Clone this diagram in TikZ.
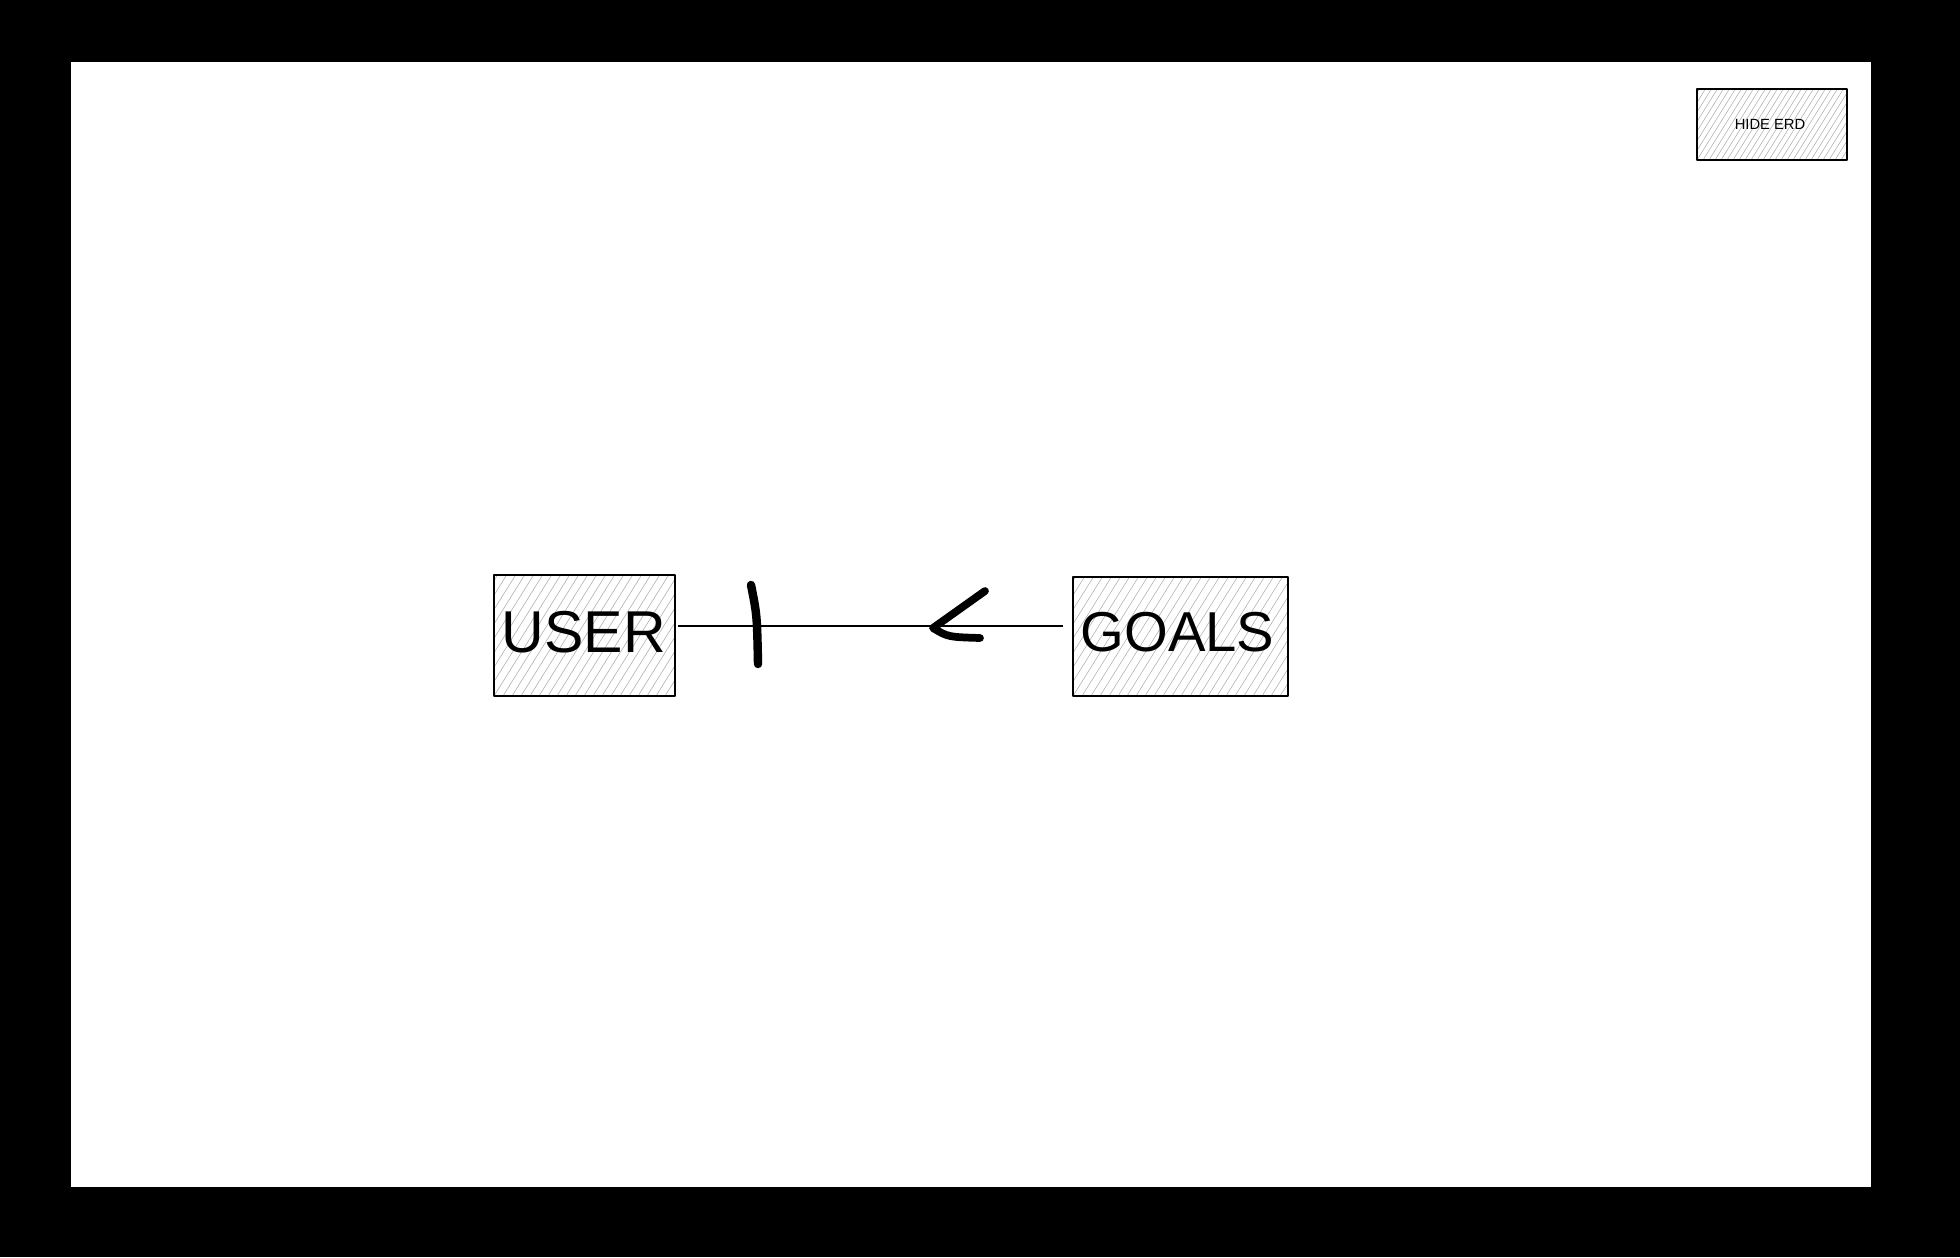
\documentclass[tikz,border=0pt]{standalone}
\usepackage{fontspec}
\setmainfont{Liberation Sans}
\usetikzlibrary{calc}
\definecolor{hatchgray}{HTML}{B0B0B0}
\tikzset{
  entitybox/.style={draw=none, inner sep=0pt, outer sep=0pt},
  usertext/.style={font=\fontsize{84}{86}\selectfont, inner sep=0pt},
  goalstext/.style={font=\fontsize{80}{82}\selectfont, inner sep=0pt},
  smalltext/.style={font=\fontsize{21}{22}\selectfont, inner sep=0pt},
  hatchline/.style={draw=hatchgray, line width=0.8pt},
  boxline/.style={draw=black, line width=2pt, line join=round},
  relline/.style={draw=black, line width=1.8pt},
  crowmark/.style={draw=black, line cap=round, line join=round}
}
\newcommand\myhatchbox[2]{%
  \begin{scope}
    \clip (#1.south west) rectangle (#1.north east);
    \foreach \k in {-30,...,60}
      \draw[hatchline] ($(#1.south west)+(\k*#2,0)$) -- ++(120,-192);
  \end{scope}
  \draw[boxline] (#1.south west) rectangle (#1.north east);
}
\begin{document}
\begin{tikzpicture}[x=0.05cm,y=-0.05cm]
  \fill[black] (0,0) rectangle (1960,1257);
  \fill[white] (71,62) rectangle (1871,1187);
  \useasboundingbox (0,0) rectangle (1960,1257);

  % boxes
  \node[entitybox, minimum width=181*1.4226pt, minimum height=121*1.4226pt] (user) at (584.5,635.5) {};
  \node[entitybox, minimum width=215*1.4226pt, minimum height=119*1.4226pt] (goals) at (1180.5,636.5) {};
  \node[entitybox, minimum width=150*1.4226pt, minimum height=71*1.4226pt] (hide) at (1772,124.5) {};

  \myhatchbox{user}{9}
  \myhatchbox{goals}{9}
  \myhatchbox{hide}{6}

  \node[usertext] (usertxt) at (584,632) {USER};
  \node[goalstext] (goalstxt) at (1177.5,632) {GOALS};
  \node[smalltext] (hidetxt) at (1770,124) {HIDE ERD};

  % relationship line
  \coordinate (ua) at ($(user.east)+(3,-9.5)$);
  \coordinate (gb) at ($(goals.west)+(-10,-10.5)$);
  \draw[relline] (ua) -- (gb);

  % one marker
  \coordinate (barTop) at (751,585);
  \coordinate (barBot) at (758,664);
  \draw[crowmark, line width=12pt] (barTop) .. controls (757,615) .. (barBot);

  % many marker
  \coordinate (cfUp) at (985,591);
  \coordinate (cfTip) at (933,628);
  \coordinate (cfLow) at (980,638);
  \draw[crowmark, line width=11pt] (cfUp) -- (cfTip) .. controls (948,637) .. (cfLow);
\end{tikzpicture}
\end{document}
